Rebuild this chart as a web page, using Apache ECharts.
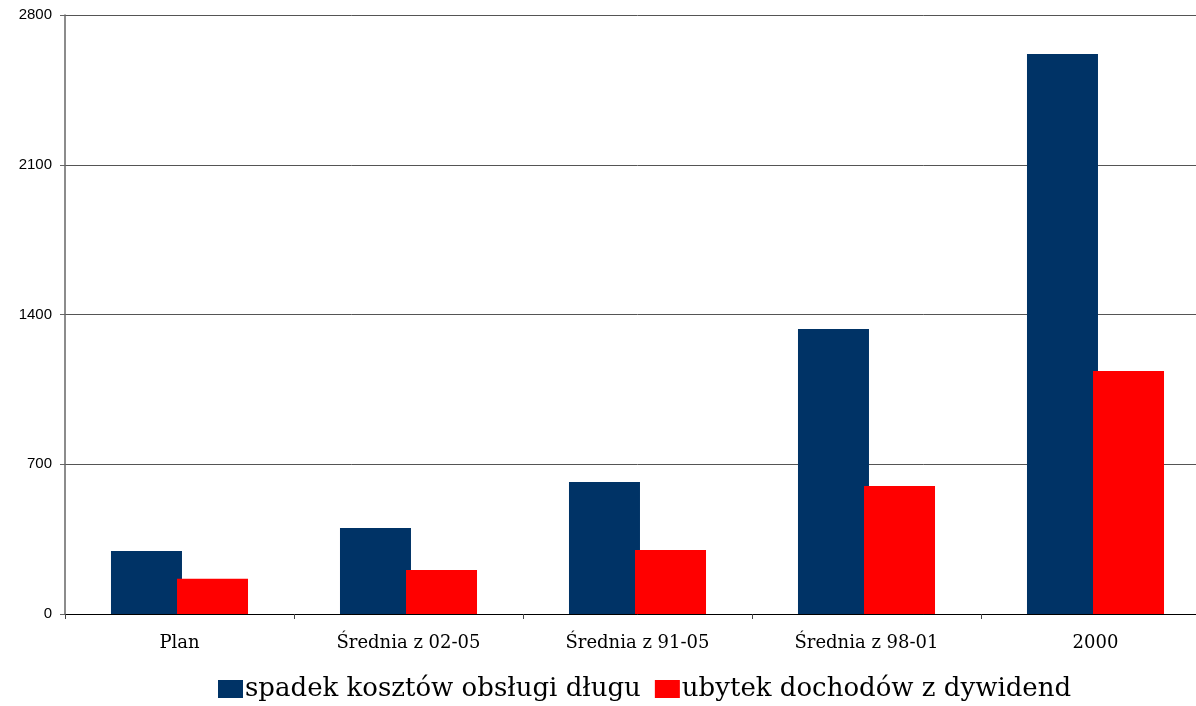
<!DOCTYPE html>
<html>
<head>
<meta charset="utf-8">
<script src="https://cdn.jsdelivr.net/npm/echarts@6/dist/echarts.min.js"></script>
<style>
  html, body { margin: 0; padding: 0; background: #fff; overflow: hidden; }
  #chart { width: 1210px; height: 706px; }
</style>
</head>
<body>
<div id="chart"></div>
<script>
// Categories and values (mln zł)
const categories = ['Plan', 'Średnia z 02-05', 'Średnia z 91-05', 'Średnia z 98-01', '2000'];
const seriesNames = ['spadek kosztów obsługi długu', 'ubytek dochodów z dywidend'];
const debtCostDrop = [295, 402, 617, 1332, 2618];
const dividendLoss = [165, 206, 299, 598, 1136];
const yTicks = [0, 700, 1400, 2100, 2800];

const chart = echarts.init(document.getElementById('chart'), null, { renderer: 'canvas' });

chart.setOption({
  animation: false,
  backgroundColor: '#ffffff',
  grid: { left: 65, top: 15, right: 0, bottom: 92, containLabel: false },
  legend: {
    top: 671,
    left: 213,
    itemWidth: 25,
    itemHeight: 18,
    itemGap: 14,
    icon: 'rect',
    textStyle: { fontFamily: 'DejaVu Serif', fontSize: 26, color: '#000', padding: [0, 0, 0, -3] },
    data: seriesNames
  },
  xAxis: {
    type: 'category',
    data: categories,
    axisLine: { lineStyle: { color: '#000', width: 1 } },
    axisTick: { show: true, length: 5, lineStyle: { color: '#444' } },
    axisLabel: { fontFamily: 'DejaVu Serif', fontSize: 18, color: '#000', margin: 20 }
  },
  yAxis: {
    type: 'value',
    min: yTicks[0],
    max: yTicks[yTicks.length - 1],
    interval: 700,
    axisLine: { show: true, lineStyle: { color: '#666', width: 1.5 } },
    axisTick: { show: true, length: 5, lineStyle: { color: '#666' } },
    splitLine: { lineStyle: { color: '#555', width: 1 } },
    axisLabel: { fontFamily: 'Liberation Sans', fontSize: 15, color: '#000', margin: 13, formatter: v => String(v) }
  },
  series: [
    {
      name: seriesNames[0],
      type: 'bar',
      data: debtCostDrop,
      barWidth: 71,
      barGap: '-7%',
      itemStyle: { color: '#003366' }
    },
    {
      name: seriesNames[1],
      type: 'bar',
      data: dividendLoss,
      barWidth: 71,
      itemStyle: { color: '#ff0000' }
    }
  ]
});
</script>
</body>
</html>
